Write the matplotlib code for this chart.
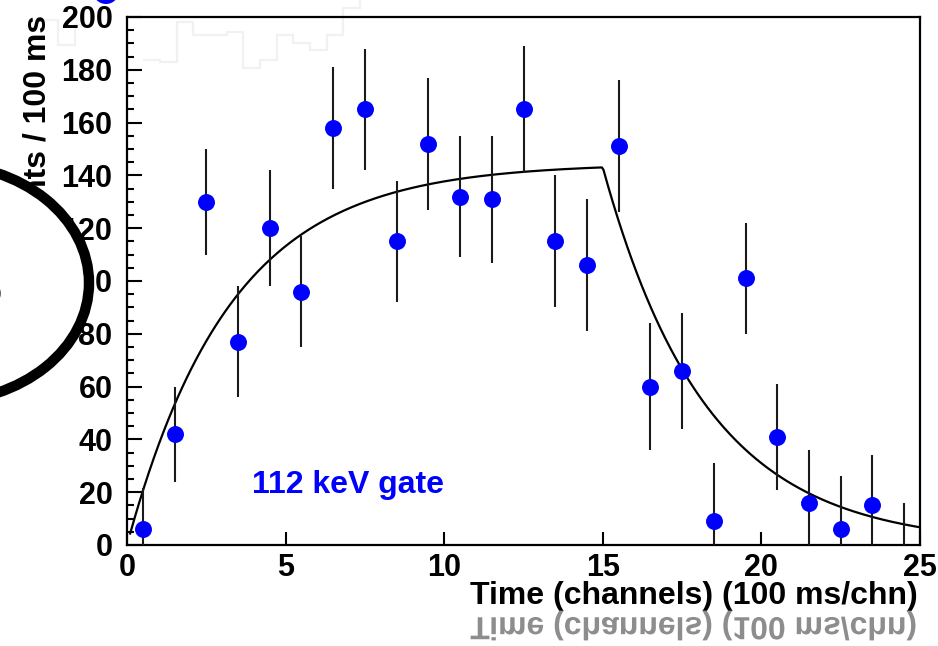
import numpy as np
import matplotlib
matplotlib.use("Agg")
import matplotlib.pyplot as plt
from matplotlib import patheffects
from matplotlib.patches import Ellipse
from matplotlib.ticker import MultipleLocator
from matplotlib.transforms import Affine2D

# ---------------- data ----------------
bin_centers = [0.5, 1.5, 2.5, 3.5, 4.5, 5.5, 6.5, 7.5, 8.5, 9.5, 10.5, 11.5,
               12.5, 13.5, 14.5, 15.5, 16.5, 17.5, 18.5, 19.5, 20.5, 21.5,
               22.5, 23.5, 24.5]
counts = [6, 42, 130, 77, 120, 96, 158, 165, 115, 152, 132, 131,
          165, 115, 106, 151, 60, 66, 9, 101, 41, 16,
          6, 15, 0]
count_errors = [15.6, 18, 20, 21, 22, 21, 23, 23, 23, 25, 23, 24,
                24, 25, 25, 25, 24, 22, 22, 21, 20, 20,
                20, 19, 16]

# fit (growth during beam-on, decay after beam-off)
fit_amplitude = 144.5
fit_lambda = 0.306
beam_off = 15.0
fit_start = 0.1
fit_end = 25.0

x_ticks = [0, 5, 10, 15, 20, 25]
y_ticks = [0, 20, 40, 60, 80, 100, 120, 140, 160, 180, 200]

x_label = "Time (channels) (100 ms/chn)"
y_label = "Counts / 100 ms"
gate_label = "112 keV gate"

# faint ghost histogram in the background (top-left)
ghost_levels = [60, 62, 22, 35, 35, 32, 68, 60, 35, 43, 50, 35, 8, -5]
ghost_left_levels = [20, 45, 25]

FONT = "Liberation Sans"
FS = 22
FS_T = 23
W, H = 938, 646

fig = plt.figure(figsize=(W / 100, H / 100), dpi=100)
fig.patch.set_facecolor("white")

# ghost histogram overlay (pixel space axes)
gax = fig.add_axes([0, 0, 1, 1], zorder=-1)
gax.set_xlim(0, W)
gax.set_ylim(H, 0)
gax.axis("off")
gx0, gbin = 143.3, 16.67
edges = gx0 + gbin * np.arange(len(ghost_levels) + 1)
gax.stairs(ghost_levels, edges, baseline=None, color="#f1f1f1", lw=1.6)
ledges = 41.3 + gbin * np.arange(len(ghost_left_levels) + 1)
gax.stairs(ghost_left_levels, ledges, baseline=None, color="#f1f1f1", lw=1.6)

# main axes
L, R, T, B = 127, 920, 17, 545
ax = fig.add_axes([L / W, 1 - B / H, (R - L) / W, (B - T) / H])
ax.set_facecolor("none")

t = np.linspace(fit_start, fit_end, 500)
f_on = fit_amplitude * (1 - np.exp(-fit_lambda * t))
f_off = fit_amplitude * (1 - np.exp(-fit_lambda * beam_off)) * np.exp(-fit_lambda * (t - beam_off))
fit = np.where(t <= beam_off, f_on, f_off)
ax.plot(t, fit, color="black", lw=1.6, zorder=2)

ax.errorbar(bin_centers, counts, yerr=count_errors, fmt="none",
            ecolor="#1a1a1a", elinewidth=1.5, capsize=0, zorder=3)
xc = np.array(bin_centers)
yc = np.array(counts)
mask = yc > 0
ax.plot(xc[mask], yc[mask], "o", color="#0000ff", ms=12.2, mec="none", zorder=4)

ax.set_xlim(0, 25)
ax.set_ylim(0, 200)
ax.set_xticks(x_ticks)
ax.set_yticks(y_ticks)
ax.yaxis.set_minor_locator(MultipleLocator(5))
ax.tick_params(axis="both", which="both", direction="in", top=False, right=False,
               width=1.5, colors="black")
ax.tick_params(axis="y", which="major", length=10.5, pad=10.5)
ax.tick_params(axis="y", which="minor", length=5)
ax.tick_params(axis="x", which="major", length=9.5, pad=5.5)
for lab in ax.get_xticklabels() + ax.get_yticklabels():
    lab.set_fontfamily(FONT)
    lab.set_fontweight("bold")
    lab.set_fontsize(FS)
for s in ax.spines.values():
    s.set_linewidth(1.6)

ax.text(3.95, 19.7, gate_label, color="#0000ff", fontsize=FS_T, fontweight="bold",
        fontfamily=FONT, ha="left", va="baseline", zorder=5)

# axis titles (ROOT style: right / top aligned)
fig.text(918 / W, 1 - 604 / H, x_label, ha="right", va="baseline",
         fontsize=FS_T, fontweight="bold", fontfamily=FONT, color="black")


class MirrorY(patheffects.AbstractPathEffect):
    """Draw the text path reflected about its lower ink edge."""
    def draw_path(self, renderer, gc, tpath, affine, rgbFace=None):
        ext = tpath.get_extents(affine)
        y0 = ext.y0
        flip = affine + Affine2D().translate(0, -y0).scale(1, -1).translate(0, y0)
        renderer.draw_path(gc, tpath, flip, rgbFace)


fig.text(918 / W, 1 - 604 / H, x_label, ha="right", va="baseline",
         fontsize=FS_T, fontweight="bold", fontfamily=FONT, color="#8d8d8d",
         path_effects=[MirrorY()])

fig.text(37 / W, 1 - 15 / H, y_label, rotation=90, ha="center", va="top",
         fontsize=FS_T, fontweight="bold", fontfamily=FONT, color="black", zorder=3)

# overlay decorations: white-filled ellipse with thick outline
ell = Ellipse((-60 / W, 1 - 283 / H), 298 / W, 238 / H, transform=fig.transFigure,
              facecolor="white", edgecolor="black", lw=7.5, zorder=10)
fig.add_artist(ell)
fig.text(-7 / W, 1 - 294 / H, "o", ha="center", va="center", fontsize=FS,
         fontfamily=FONT, color="black", zorder=11)
blob = Ellipse((106 / W, 1 + 9 / H), 26 / W, 26 / H, transform=fig.transFigure,
               facecolor="#0000ff", edgecolor="none", zorder=9)
fig.add_artist(blob)

fig.savefig("out.png", dpi=100, facecolor="white")
